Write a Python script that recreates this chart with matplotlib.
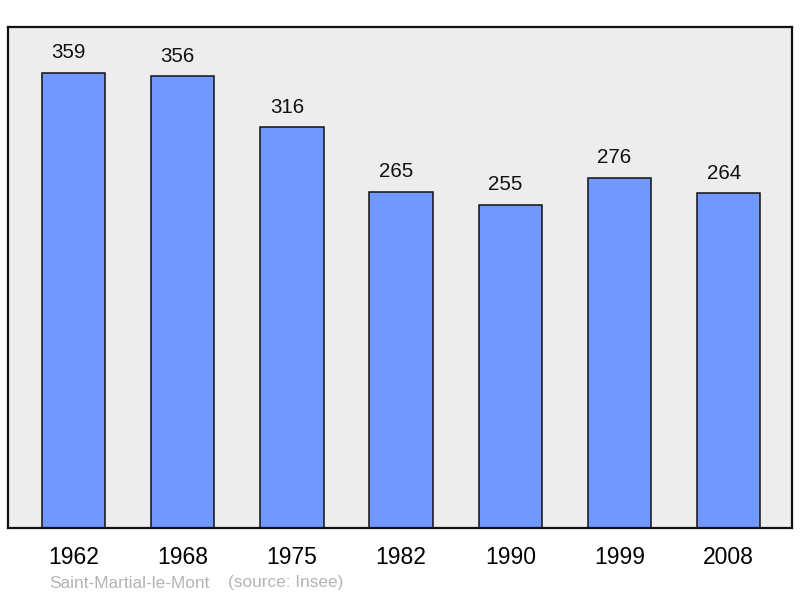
import matplotlib
matplotlib.use('Agg')
import matplotlib.pyplot as plt

# population per census year
years = ['1962', '1968', '1975', '1982', '1990', '1999', '2008']
population = [359, 356, 316, 265, 255, 276, 264]
town = 'Saint-Martial-le-Mont'
source = '(source: Insee)'

plt.rcParams['font.family'] = ['Liberation Sans', 'DejaVu Sans']

fig = plt.figure(figsize=(8, 5.98), dpi=100)
ax = fig.add_axes([0.01, 0.117, 0.98, 0.838])
ax.set_facecolor('#ededed')

xpos = range(len(years))
ax.bar(xpos, population, width=0.58, color='#7098ff',
       edgecolor='#111111', linewidth=1.1, zorder=2)

# value labels sit a little left of the bar centre, as in the original
for x, v in zip(xpos, population):
    ax.annotate(str(v), xy=(x, v), xytext=(-3.6, 7.5), textcoords='offset points',
                ha='center', va='bottom', fontsize=14.8, color='#111111')

ax.set_xlim(-0.6, 6.58)
ax.set_ylim(0, 395)
ax.set_xticks(list(xpos))
ax.set_xticklabels(years, fontsize=16.5)
ax.set_yticks([])
ax.tick_params(axis='x', length=0, pad=13)

for s in ax.spines.values():
    s.set_linewidth(1.6)
    s.set_color('#111111')

# footer
fig.text(49 / 800, 1 - 583 / 598, town, fontsize=12.4, color='#b4b4b4',
         ha='left', va='center')
fig.text(228 / 800, 1 - 583 / 598, source, fontsize=12.4, color='#b4b4b4',
         ha='left', va='center')

plt.savefig('out.png', dpi=100)
plt.close()
